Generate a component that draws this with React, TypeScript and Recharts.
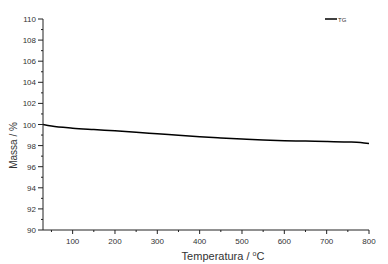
import { Label, Legend, Line, LineChart, XAxis, YAxis } from "recharts";

const temps = [30, 50, 100, 150, 200, 250, 300, 350, 400, 450, 500, 550, 600, 650, 700, 750, 780, 800];
const massa = [100.0, 99.85, 99.65, 99.52, 99.4, 99.27, 99.12, 98.98, 98.84, 98.73, 98.63, 98.54, 98.47, 98.43, 98.4, 98.35, 98.3, 98.2];

const xTicks = [50, 100, 150, 200, 250, 300, 350, 400, 450, 500, 550, 600, 650, 700, 750, 800];
const yTicks = [90, 91, 92, 93, 94, 95, 96, 97, 98, 99, 100, 101, 102, 103, 104, 105, 106, 107, 108, 109, 110];

const data = temps.map((t, i) => ({ t, tg: massa[i] }));

const FONT = "'Liberation Sans', Arial, sans-serif";
const AXIS = "#222";
const TEXT = "#333";

function XTick({ x, y, payload }: any) {
  const major = payload.value % 100 === 0;
  return (
    <g>
      <line x1={x} y1={y} x2={x} y2={y + (major ? 4 : 2)} stroke={AXIS} strokeWidth={1} />
      {major && (
        <text x={x} y={y + 14} textAnchor="middle" fontSize={8} fill={TEXT} fontFamily={FONT}>
          {payload.value}
        </text>
      )}
    </g>
  );
}

function YTick({ x, y, payload }: any) {
  const major = payload.value % 2 === 0;
  return (
    <g>
      <line x1={x} y1={y} x2={x - (major ? 5 : 2)} y2={y} stroke={AXIS} strokeWidth={1} />
      {major && (
        <text x={x - 7} y={y + 3} textAnchor="end" fontSize={8} fill={TEXT} fontFamily={FONT}>
          {payload.value}
        </text>
      )}
    </g>
  );
}

function LegendBox() {
  return (
    <svg width={30} height={10} style={{ display: "block" }}>
      <line x1={0} y1={5} x2={12} y2={5} stroke="#000" strokeWidth={1.5} />
      <text x={13} y={7.5} fontSize={6} fill={TEXT} fontFamily={FONT}>
        TG
      </text>
    </svg>
  );
}

export default function App() {
  return (
    <div style={{ position: "absolute", left: 0, top: 0, background: "#fff" }}>
      <LineChart width={388} height={264} data={data} margin={{ top: 9, right: 19, bottom: 0, left: 0 }}>
        <XAxis
          dataKey="t"
          type="number"
          domain={[30, 800]}
          ticks={xTicks}
          interval={0}
          allowDataOverflow
          height={34}
          stroke={AXIS}
          tickSize={0}
          tickMargin={0}
          tickLine={false}
          tick={<XTick />}
        >
          <Label
            content={({ viewBox }: any) => (
              <text
                x={viewBox.x + viewBox.width / 2 + 17}
                y={viewBox.y + 30}
                textAnchor="middle"
                fontSize={11}
                fill={TEXT}
                fontFamily={FONT}
              >
                Temperatura / <tspan dy={-4} fontSize={7}>o</tspan>
                <tspan dy={4}>C</tspan>
              </text>
            )}
          />
        </XAxis>
        <XAxis xAxisId="top" dataKey="t" type="number" domain={[30, 800]} orientation="top" height={0} tick={false} tickLine={false} stroke={AXIS} />
        <YAxis
          type="number"
          domain={[90, 110]}
          ticks={yTicks}
          interval={0}
          allowDataOverflow
          width={43}
          stroke={AXIS}
          tickSize={0}
          tickMargin={0}
          tickLine={false}
          tick={<YTick />}
        >
          <Label
            content={({ viewBox }: any) => {
              const cx = 13;
              const cy = viewBox.y + viewBox.height / 2 + 21;
              return (
                <text
                  x={cx}
                  y={cy}
                  transform={`rotate(-90 ${cx} ${cy})`}
                  textAnchor="middle"
                  dominantBaseline="central"
                  fontSize={10}
                  fill={TEXT}
                  fontFamily={FONT}
                >
                  Massa / %
                </text>
              );
            }}
          />
        </YAxis>
        <YAxis yAxisId="right" orientation="right" domain={[90, 110]} width={0} tick={false} tickLine={false} stroke={AXIS} />
        <Legend
          verticalAlign="top"
          align="right"
          content={() => <LegendBox />}
          wrapperStyle={{ position: "absolute", top: 14, left: 325, width: 30 }}
        />
        <Line
          dataKey="tg"
          type="monotone"
          stroke="#000"
          strokeWidth={1.5}
          dot={false}
          isAnimationActive={false}
        />
      </LineChart>
    </div>
  );
}
